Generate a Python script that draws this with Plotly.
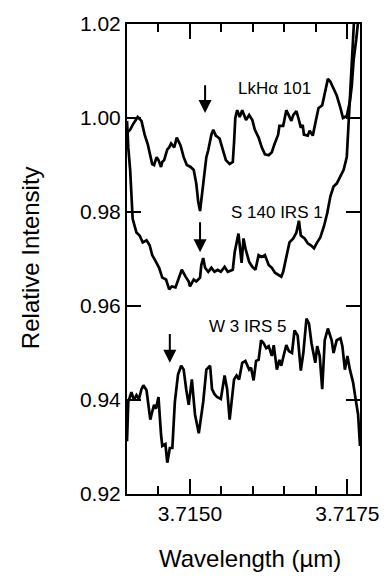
import plotly.graph_objects as go

# Spectra: wavelength (µm) and relative intensity for three sources
lkha_wl = [3.71400, 3.71405, 3.71409, 3.71417, 3.71423, 3.71428, 3.71433, 3.71438, 3.71440, 3.71443,
           3.71447, 3.71450, 3.71454, 3.71456, 3.71459, 3.71464, 3.71467, 3.71470, 3.71475, 3.71479,
           3.71485, 3.71490, 3.71495, 3.71501, 3.71506, 3.71510, 3.71513, 3.71516, 3.71518, 3.71521,
           3.71526, 3.71529, 3.71534, 3.71537, 3.71541, 3.71547, 3.71552, 3.71557, 3.71563, 3.71568,
           3.71570, 3.71572, 3.71575, 3.71579, 3.71583, 3.71586, 3.71589, 3.71594, 3.71599, 3.71603,
           3.71609, 3.71614, 3.71619, 3.71625, 3.71630, 3.71634, 3.71640, 3.71642, 3.71648, 3.71653,
           3.71657, 3.71661, 3.71664, 3.71669, 3.71673, 3.71676, 3.71679, 3.71681, 3.71687, 3.71690,
           3.71695, 3.71700, 3.71704, 3.71710, 3.71715, 3.71719, 3.71723, 3.71728, 3.71733, 3.71739,
           3.71743, 3.71749, 3.71754, 3.71757, 3.71760, 3.71764, 3.71768]
lkha_int = [0.99688, 0.99750, 0.99854, 1.00021, 0.99938, 0.99646, 0.99438, 0.99167, 0.99021, 0.99000,
            0.99167, 0.99104, 0.98958, 0.99063, 0.99104, 0.99333, 0.99375, 0.99458, 0.99375, 0.99583,
            0.99417, 0.99167, 0.99000, 0.98958, 0.98896, 0.98604, 0.98229, 0.98021, 0.98229, 0.98604,
            0.99167, 0.99313, 0.99646, 0.99750, 0.99625, 0.99563, 0.99313, 0.99104, 0.99021, 0.99063,
            0.99479, 1.00000, 1.00167, 1.00021, 1.00167, 1.00042, 0.99958, 1.00063, 0.99958, 0.99750,
            0.99583, 0.99375, 0.99229, 0.99208, 0.99271, 0.99438, 0.99646, 0.99833, 0.99833, 1.00167,
            1.00042, 0.99938, 1.00063, 1.00146, 0.99958, 0.99792, 0.99854, 0.99646, 0.99625, 0.99729,
            0.99625, 0.99938, 1.00208, 1.00271, 1.00563, 1.00833, 1.00771, 1.00625, 1.00479, 1.00208,
            1.00000, 1.00042, 1.00354, 1.00688, 1.01250, 1.01667, 1.02188]

s140_wl = [3.71400, 3.71402, 3.71405, 3.71409, 3.71415, 3.71420, 3.71425, 3.71431, 3.71436, 3.71440,
           3.71446, 3.71451, 3.71456, 3.71462, 3.71467, 3.71471, 3.71477, 3.71482, 3.71487, 3.71493,
           3.71498, 3.71500, 3.71506, 3.71510, 3.71516, 3.71518, 3.71521, 3.71524, 3.71529, 3.71534,
           3.71539, 3.71544, 3.71549, 3.71555, 3.71560, 3.71568, 3.71571, 3.71577, 3.71580, 3.71582,
           3.71585, 3.71588, 3.71594, 3.71599, 3.71604, 3.71609, 3.71614, 3.71619, 3.71625, 3.71630,
           3.71635, 3.71640, 3.71645, 3.71648, 3.71653, 3.71658, 3.71664, 3.71669, 3.71673, 3.71676,
           3.71682, 3.71687, 3.71692, 3.71697, 3.71702, 3.71707, 3.71713, 3.71718, 3.71723, 3.71728,
           3.71733, 3.71739, 3.71744, 3.71749, 3.71751, 3.71755, 3.71758, 3.71761]
s140_int = [0.99938, 0.99375, 0.98896, 0.97854, 0.97563, 0.97500, 0.97354, 0.97396, 0.97292, 0.97083,
            0.96938, 0.96813, 0.96604, 0.96563, 0.96354, 0.96417, 0.96396, 0.96604, 0.96771, 0.96625,
            0.96521, 0.96417, 0.96563, 0.96521, 0.96604, 0.96875, 0.97021, 0.96813, 0.96729, 0.96813,
            0.96729, 0.96771, 0.96729, 0.96833, 0.96729, 0.96771, 0.97146, 0.97542, 0.97229, 0.96917,
            0.97438, 0.97229, 0.96938, 0.96833, 0.96771, 0.97083, 0.97042, 0.97083, 0.96875, 0.96813,
            0.96708, 0.96667, 0.96625, 0.96729, 0.97021, 0.97354, 0.97438, 0.97563, 0.97813, 0.97500,
            0.97438, 0.97333, 0.97292, 0.97229, 0.97354, 0.97458, 0.97708, 0.97979, 0.98333, 0.98542,
            0.98604, 0.98750, 0.98896, 0.99167, 0.99688, 1.00625, 1.01458, 1.02188]

w3_wl = [3.71400, 3.71402, 3.71407, 3.71411, 3.71415, 3.71419, 3.71423, 3.71426, 3.71431, 3.71433,
         3.71437, 3.71440, 3.71443, 3.71446, 3.71450, 3.71454, 3.71456, 3.71461, 3.71464, 3.71468,
         3.71472, 3.71476, 3.71481, 3.71486, 3.71490, 3.71494, 3.71498, 3.71503, 3.71508, 3.71514,
         3.71521, 3.71526, 3.71532, 3.71535, 3.71539, 3.71543, 3.71549, 3.71555, 3.71559, 3.71563,
         3.71566, 3.71570, 3.71574, 3.71578, 3.71583, 3.71588, 3.71594, 3.71597, 3.71601, 3.71605,
         3.71609, 3.71613, 3.71617, 3.71621, 3.71625, 3.71630, 3.71633, 3.71638, 3.71642, 3.71645,
         3.71649, 3.71653, 3.71657, 3.71662, 3.71666, 3.71671, 3.71676, 3.71680, 3.71685, 3.71689,
         3.71693, 3.71699, 3.71702, 3.71706, 3.71710, 3.71714, 3.71719, 3.71725, 3.71728, 3.71733,
         3.71739, 3.71742, 3.71746, 3.71750, 3.71754, 3.71759, 3.71763, 3.71767, 3.71770]
w3_int = [0.93125, 0.93958, 0.94167, 0.94000, 0.94104, 0.94021, 0.94229, 0.94313, 0.94208, 0.93958,
          0.93583, 0.93750, 0.93896, 0.93813, 0.94063, 0.93271, 0.93021, 0.93063, 0.92667, 0.92979,
          0.92979, 0.93958, 0.94542, 0.94729, 0.94646, 0.94229, 0.93896, 0.94438, 0.93688, 0.93292,
          0.93958, 0.94646, 0.94729, 0.94229, 0.94125, 0.94063, 0.94021, 0.94521, 0.94229, 0.93583,
          0.93958, 0.94438, 0.94521, 0.94438, 0.94792, 0.94833, 0.94646, 0.94688, 0.94417, 0.94833,
          0.94854, 0.95271, 0.95208, 0.95104, 0.95146, 0.94938, 0.95167, 0.94646, 0.94854, 0.94729,
          0.94958, 0.95167, 0.95042, 0.95000, 0.95479, 0.95375, 0.94625, 0.95000, 0.95729, 0.95625,
          0.95208, 0.94792, 0.95146, 0.94938, 0.94229, 0.95271, 0.95521, 0.95271, 0.95000, 0.95271,
          0.95313, 0.95146, 0.94646, 0.94938, 0.94646, 0.94375, 0.94021, 0.93688, 0.93021]

# Source labels (text, x, y)
source_names = ["LkHα 101", "S 140 IRS 1", "W 3 IRS 5"]
label_wl = [3.71634, 3.71638, 3.71592]
label_int = [1.00625, 0.98000, 0.95569]

# Marked feature positions: wavelength, arrow tail and head intensities
arrow_wl = [3.71524, 3.71516, 3.71468]
arrow_tail = [1.00729, 0.97813, 0.95438]
arrow_head = [1.00104, 0.97146, 0.94792]

# Axis ticks
x_major = [3.7150, 3.7175]
x_major_text = ["3.7150", "3.7175"]
x_minor = [3.7145, 3.7155, 3.7160, 3.7165, 3.7170]
y_ticks = [0.92, 0.94, 0.96, 0.98, 1.00, 1.02]
y_tick_text = ["0.92", "0.94", "0.96", "0.98", "1.00", "1.02"]

FONT = "Liberation Sans, Arial, Helvetica, sans-serif"

fig = go.Figure()
for wl, inten in [(lkha_wl, lkha_int), (s140_wl, s140_int), (w3_wl, w3_int)]:
    fig.add_trace(go.Scatter(x=wl, y=inten, mode="lines",
                             line=dict(color="black", width=2.7),
                             showlegend=False, hoverinfo="skip"))

for name, lx, ly in zip(source_names, label_wl, label_int):
    fig.add_annotation(x=lx, y=ly, text=name, showarrow=False,
                       font=dict(family=FONT, size=17, color="black"),
                       xanchor="center", yanchor="middle")

for ax_, t, h in zip(arrow_wl, arrow_tail, arrow_head):
    fig.add_annotation(x=ax_, y=h, ax=ax_, ay=t, axref="x", ayref="y",
                       xref="x", yref="y", text="", showarrow=True,
                       arrowhead=2, arrowsize=1.3, arrowwidth=2,
                       arrowcolor="black", standoff=0, startstandoff=0)

fig.add_annotation(x=-0.416, y=0.502, xref="paper", yref="paper",
                   text="Relative Intensity", textangle=-90, showarrow=False,
                   font=dict(family=FONT, size=24, color="black"),
                   xanchor="center", yanchor="middle")
fig.add_annotation(x=0.529, y=-0.1375, xref="paper", yref="paper",
                   text="Wavelength (µm)", showarrow=False,
                   font=dict(family=FONT, size=24, color="black"),
                   xanchor="center", yanchor="middle")

fig.update_xaxes(range=[3.7140, 3.7177], showgrid=False, zeroline=False,
                 showline=True, linecolor="black", linewidth=2, mirror="ticks",
                 ticks="inside", ticklen=15, tickwidth=2, tickcolor="black",
                 tickvals=x_major, ticktext=x_major_text,
                 tickfont=dict(family=FONT, size=21, color="black"),
                 minor=dict(tickmode="array", tickvals=x_minor, ticks="inside",
                            ticklen=8, tickwidth=2, tickcolor="black",
                            showgrid=False))
fig.update_yaxes(range=[0.92, 1.02], showgrid=False, zeroline=False,
                 showline=True, linecolor="black", linewidth=2, mirror="ticks",
                 ticks="inside", ticklen=14, tickwidth=2, tickcolor="black",
                 tickvals=y_ticks, ticktext=y_tick_text,
                 tickfont=dict(family=FONT, size=21, color="black"))

fig.update_layout(width=391, height=580,
                  margin=dict(l=127, r=26, t=14, b=86),
                  paper_bgcolor="white", plot_bgcolor="white")

fig.write_html("out.html")
